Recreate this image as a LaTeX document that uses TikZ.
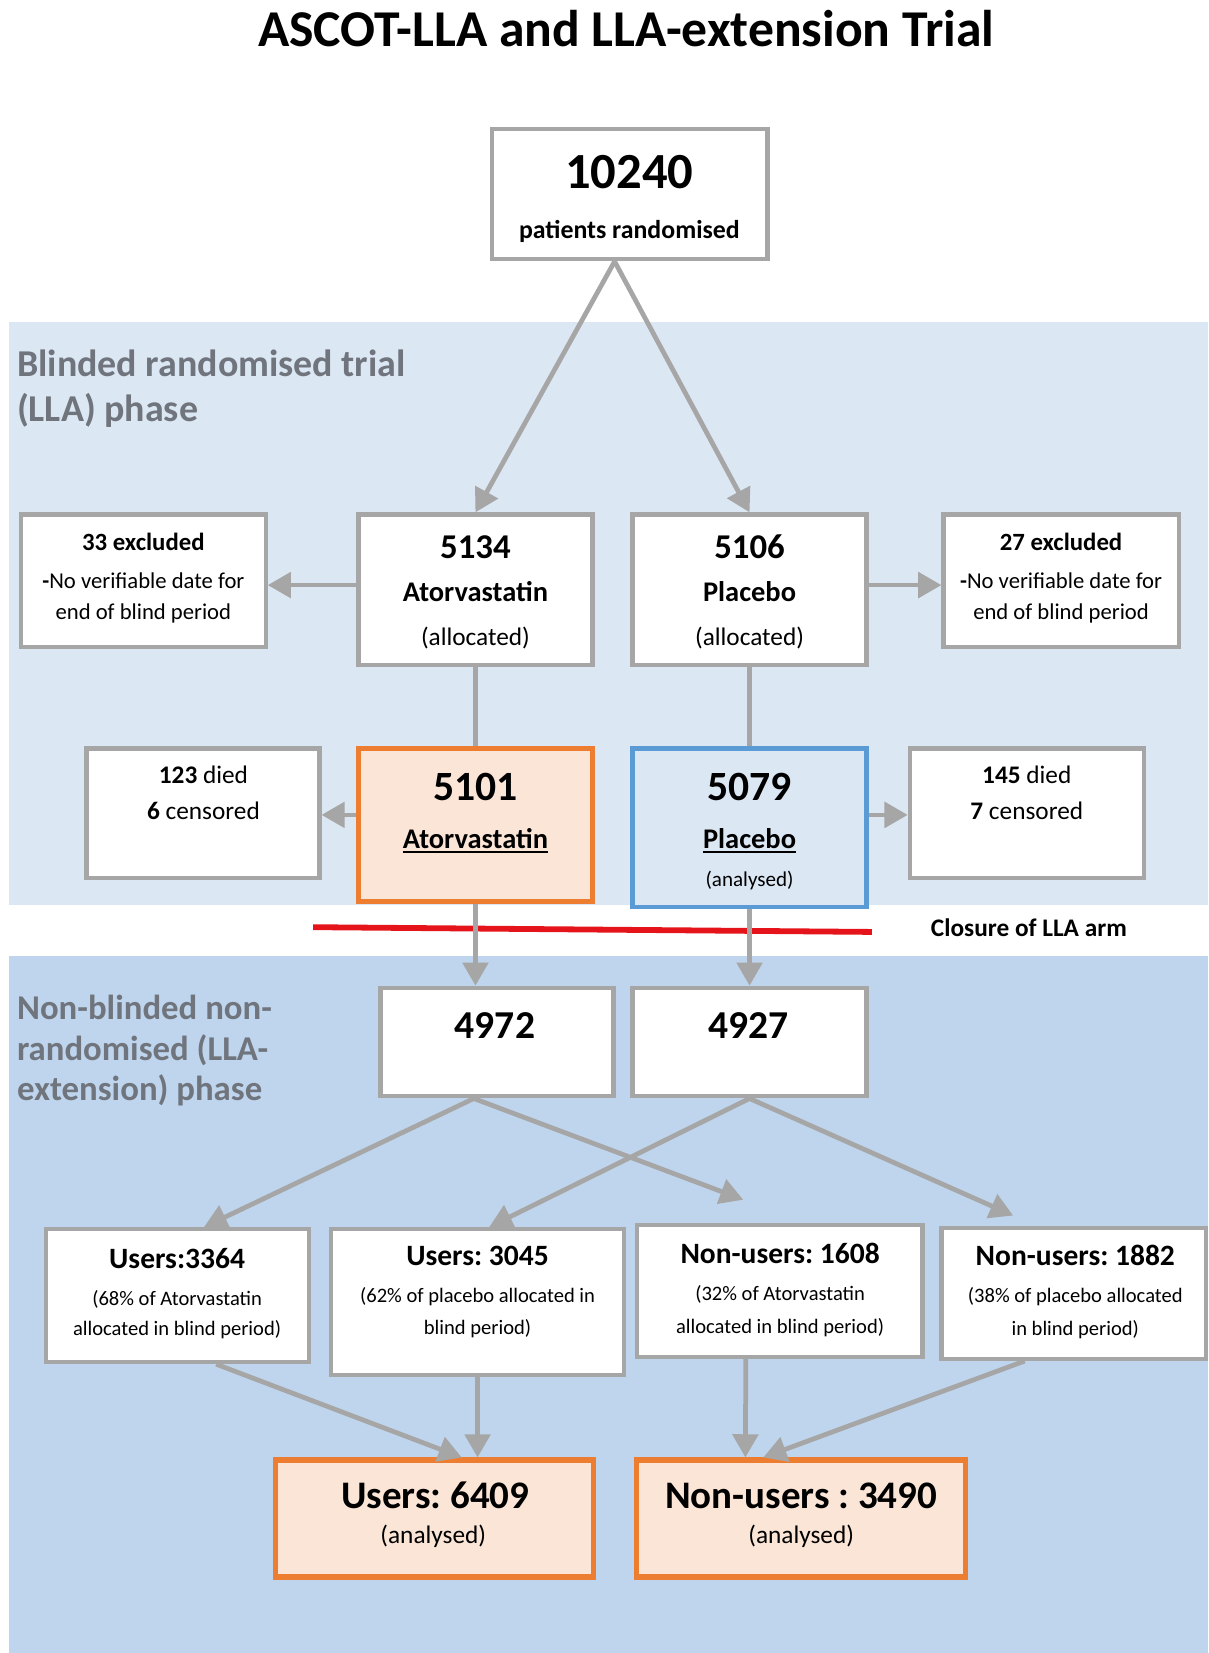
\documentclass[tikz,border=0pt]{standalone}
\usepackage{fontspec}
\setmainfont{Carlito}
\usetikzlibrary{arrows.meta}
\definecolor{lightphase}{RGB}{220,231,244}
\definecolor{darkphase}{RGB}{190,213,237}
\definecolor{boxgray}{RGB}{166,166,166}
\definecolor{phasegray}{RGB}{112,117,125}
\definecolor{analysedorange}{RGB}{237,125,49}
\definecolor{analysedfill}{RGB}{251,229,214}
\definecolor{placeboblue}{RGB}{91,155,213}
\definecolor{closurered}{RGB}{228,20,26}
\newcommand{\setsz}[1]{\fontsize{#1}{#1}\selectfont}
\newcommand{\underdrug}[1]{\setbox0\hbox{#1}\rlap{\rule[-4pt]{\wd0}{1.8pt}}\box0}
\frenchspacing

\begin{document}
\begin{tikzpicture}[x=1pt, y=-1pt,
    box/.style={draw=boxgray, line width=4pt, fill=white, inner sep=0pt},
    orangebox/.style={box, draw=analysedorange, fill=analysedfill, line width=4.5pt},
    bluebox/.style={box, draw=placeboblue, fill=lightphase},
    lbl/.style={inner sep=0pt, anchor=base},
    boldtext/.style={lbl, font=\setsz{#1}\bfseries},
    plaintext/.style={lbl, font=\setsz{#1}},
    phasetxt/.style={inner sep=0pt, anchor=base west, text=phasegray, font=\setsz{#1}\bfseries},
    arr/.style={draw=boxgray, line width=4.5pt, -{Triangle[length=22pt, width=24pt]}},
    stem/.style={draw=boxgray, line width=4.5pt},
    closure/.style={draw=closurered, line width=5.5pt}]

    \useasboundingbox (0,0) rectangle (1146,1568);

    % draw the two phase backgrounds:
    \fill[lightphase] (9,305) rectangle (1146,858);
    \fill[darkphase] (9,907) rectangle (1146,1568);

    % draw the red closure line across both arms:
    \draw[closure] (297,879.5) -- (827,884);

    % title on top:
    \node[boldtext=49] (title) at (594,44) {ASCOT-LLA and LLA-extension Trial};

    % phase labels on the left:
    \node[phasetxt=36] (blindA) at (16,357) {Blinded randomised trial};
    \node[phasetxt=36] (blindB) at (16,400) {(LLA) phase};
    \node[phasetxt=33] (openA) at (16,967.5) {Non-blinded non-};
    \node[phasetxt=33] (openB) at (16,1005.5) {randomised (LLA-};
    \node[phasetxt=33] (openC) at (16,1043.5) {extension) phase};

    % the boxes:
    \node[box, minimum width=261pt, minimum height=124pt] (rand) at (597.5,184) {};
    \node[box, minimum width=222pt, minimum height=143pt] (atoalloc) at (451,559.5) {};
    \node[box, minimum width=222pt, minimum height=143pt] (plaalloc) at (711,559.5) {};
    \node[box, minimum width=232pt, minimum height=126pt] (atoexcl) at (136,551) {};
    \node[box, minimum width=223pt, minimum height=126pt] (plaexcl) at (1006.5,551) {};
    \node[box, minimum width=221pt, minimum height=123pt] (atodied) at (192.5,771.5) {};
    \node[box, minimum width=222pt, minimum height=123pt] (pladied) at (974,771.5) {};
    \node[orangebox, minimum width=222pt, minimum height=145pt] (atoan) at (451,782.5) {};
    \node[bluebox, minimum width=222pt, minimum height=150pt] (plaan) at (711,785) {};
    \node[box, minimum width=221pt, minimum height=103pt] (atoext) at (471.5,988.5) {};
    \node[box, minimum width=222pt, minimum height=103pt] (plaext) at (711,988.5) {};
    \node[box, minimum width=249pt, minimum height=126pt] (usersA) at (168.5,1229) {};
    \node[box, minimum width=278pt, minimum height=138pt] (usersP) at (453,1235) {};
    \node[box, minimum width=271pt, minimum height=125pt] (nonusersA) at (739.5,1224.5) {};
    \node[box, minimum width=251pt, minimum height=124pt] (nonusersP) at (1018.5,1227) {};
    \node[orangebox, line width=5pt, minimum width=302pt, minimum height=111pt] (users) at (412,1440.5) {};
    \node[orangebox, line width=5pt, minimum width=312pt, minimum height=111pt] (nonusers) at (760,1440.5) {};

    % texts of the blinded phase:
    \node[boldtext=48] (randnum) at (597,178.5) {10240};
    \node[boldtext=24.5] (randtxt) at (597,226) {patients randomised};
    \node[boldtext=33] (atoallocnum) at (451,529.5) {5134};
    \node[boldtext=27] (atoallocname) at (451,571) {Atorvastatin};
    \node[plaintext=24] (atoallocnote) at (451,612) {(allocated)};
    \node[boldtext=33] (plaallocnum) at (711,529.5) {5106};
    \node[boldtext=27] (plaallocname) at (711,571) {Placebo};
    \node[plaintext=24] (plaallocnote) at (711,612) {(allocated)};
    \node[boldtext=23.5] (atoexclnum) at (136,522) {33 excluded};
    \node[plaintext=21.5] (atoexclA) at (136,558) {{\bfseries -}No verifiable date for};
    \node[plaintext=21.5] (atoexclB) at (136,588) {end of blind period};
    \node[boldtext=23.5] (plaexclnum) at (1006.5,522) {27 excluded};
    \node[plaintext=21.5] (plaexclA) at (1006.5,558) {{\bfseries -}No verifiable date for};
    \node[plaintext=21.5] (plaexclB) at (1006.5,588) {end of blind period};
    \node[plaintext=24] (atodiedA) at (193,743) {\textbf{123} died};
    \node[plaintext=24] (atodiedB) at (193,777) {\textbf{6} censored};
    \node[plaintext=24] (pladiedA) at (974,743) {\textbf{145} died};
    \node[plaintext=24] (pladiedB) at (974,777) {\textbf{7} censored};
    \node[boldtext=39.5] (atoannum) at (451,759) {5101};
    \node[boldtext=27] (atoanname) at (451,805) {\underdrug{Atorvastatin}};
    \node[boldtext=39.5] (plaannum) at (711,759) {5079};
    \node[boldtext=27] (plaanname) at (711,805) {\underdrug{Placebo}};
    \node[plaintext=20] (plaannote) at (711,841) {(analysed)};
    \node[boldtext=24] (closuretxt) at (976,888) {Closure of LLA arm};

    % texts of the extension phase:
    \node[boldtext=37.5] (atoextnum) at (469.5,985) {4972};
    \node[boldtext=37.5] (plaextnum) at (710,985) {4927};
    \node[boldtext=28] (usersAnum) at (168,1203) {Users:3364};
    \node[plaintext=19.5] (usersAa) at (168,1238.5) {(68\% of Atorvastatin};
    \node[plaintext=19.5] (usersAb) at (168,1266.5) {allocated in blind period)};
    \node[boldtext=28] (usersPnum) at (453,1200) {Users: 3045};
    \node[plaintext=19.5] (usersPa) at (453,1235.5) {(62\% of placebo allocated in};
    \node[plaintext=19.5] (usersPb) at (453,1265.5) {blind period)};
    \node[boldtext=28] (nonusersAnum) at (740,1198.5) {Non-users: 1608};
    \node[plaintext=19.5] (nonusersAa) at (740,1234) {(32\% of Atorvastatin};
    \node[plaintext=19.5] (nonusersAb) at (740,1265) {allocated in blind period)};
    \node[boldtext=28] (nonusersPnum) at (1020,1200) {Non-users: 1882};
    \node[plaintext=19.5] (nonusersPa) at (1020,1235.5) {(38\% of placebo allocated};
    \node[plaintext=19.5] (nonusersPb) at (1020,1266.5) {in blind period)};
    \node[boldtext=37] (usersnum) at (413,1431) {Users: 6409};
    \node[plaintext=24] (usersnote) at (411,1464) {(analysed)};
    \node[boldtext=37] (nonusersnum) at (760,1431) {Non-users : 3490};
    \node[plaintext=24] (nonusersnote) at (760,1464) {(analysed)};

    % free ends of the two arrows into the non-user boxes:
    \coordinate (nuAtip) at (705,1138);
    \coordinate (nuPtip) at (961,1153);

    % randomisation into the two arms:
    \draw[arr] ([xshift=-14.5pt]rand.south) -- (atoalloc.north);
    \draw[arr] ([xshift=-14.5pt]rand.south) -- (plaalloc.north);

    % exclusions and deaths going sideways:
    \draw[arr] ([yshift=4.5pt]atoalloc.west) -- ([yshift=-4pt]atoexcl.east);
    \draw[arr] ([yshift=4.5pt]plaalloc.east) -- ([yshift=-4pt]plaexcl.west);
    \draw[arr] ([yshift=9.5pt]atoan.west) -- ([yshift=-1.5pt]atodied.east);
    \draw[arr] ([yshift=12pt]plaan.east) -- ([yshift=-1.5pt]pladied.west);

    % down the two arms:
    \draw[stem] (atoalloc.south) -- (atoan.north);
    \draw[stem] (plaalloc.south) -- (plaan.north);
    \draw[arr] (atoan.south) -- ([xshift=-20.5pt]atoext.north);
    \draw[arr] (plaan.south) -- (plaext.north);

    % split into users and non-users:
    \draw[arr] ([xshift=-22pt]atoext.south) -- ([xshift=25pt]usersA.north);
    \draw[arr] ([xshift=-22pt]atoext.south) -- (nuAtip);
    \draw[arr] (plaext.south) -- ([xshift=11pt]usersP.north);
    \draw[arr] (plaext.south) -- (nuPtip);

    % pooled groups:
    \draw[arr] ([xshift=36.5pt]usersA.south) -- ([xshift=26pt]users.north);
    \draw[arr] (usersP.south) -- ([xshift=41pt]users.north);
    \draw[arr] ([xshift=-32pt]nonusersA.south) -- ([xshift=-53pt]nonusers.north);
    \draw[arr] ([xshift=-46.5pt]nonusersP.south) -- ([xshift=-36pt]nonusers.north);

\end{tikzpicture}
\end{document}
